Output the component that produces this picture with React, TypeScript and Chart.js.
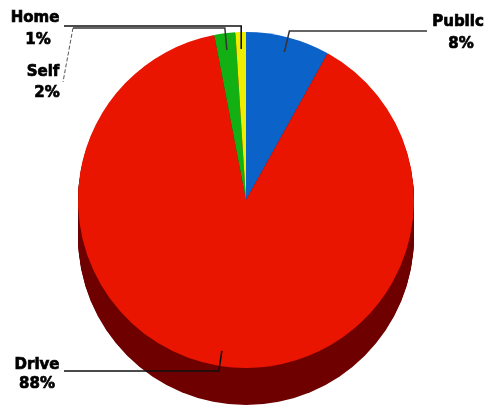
import React, { useEffect, useRef } from "react";
import { Chart, registerables } from "chart.js";

Chart.register(...registerables);

const categories = ["Public", "Drive", "Self", "Home"];
const shares = [8, 88, 2, 1];
const faceColors = ["#0b62c9", "#ea1500", "#12b012", "#eeee00"];
const wallColor = "#6e0000";
const inkColor = "#111111";
const wallDepth = 37;

const labelFont = 'bold 15px "DejaVu Sans"';

// Anchor of each two-line caption: centre x, first baseline y, second line centre x, second baseline y.
const captions = [
  { index: 0, x: 458, y: 26, x2: 461, y2: 48 },
  { index: 1, x: 37, y: 369, x2: 37, y2: 388 },
  { index: 2, x: 43, y: 76, x2: 47, y2: 97 },
  { index: 3, x: 35, y: 22, x2: 38, y2: 44 },
];

const pieWall = {
  id: "pieWall",
  beforeDatasetsDraw(chart: any) {
    const arc = chart.getDatasetMeta(0).data[0];
    const { ctx } = chart;
    ctx.save();
    ctx.fillStyle = wallColor;
    for (let dy = 1; dy <= wallDepth; dy++) {
      ctx.beginPath();
      ctx.arc(arc.x, arc.y + dy, arc.outerRadius, 0, Math.PI * 2);
      ctx.fill();
    }
    ctx.restore();
  },
};

// Point inside a slice along its middle angle.
function sliceTip(arc: any, reach: number) {
  const mid = (arc.startAngle + arc.endAngle) / 2;
  return {
    x: arc.x + Math.cos(mid) * arc.outerRadius * reach,
    y: arc.y + Math.sin(mid) * arc.outerRadius * reach,
  };
}

const calloutLabels = {
  id: "calloutLabels",
  afterDatasetsDraw(chart: any) {
    const { ctx } = chart;
    const arcs = chart.getDatasetMeta(0).data;
    const stroke = (pts: number[][], width = 1.6, color = inkColor, dash: number[] = []) => {
      ctx.beginPath();
      ctx.lineWidth = width;
      ctx.strokeStyle = color;
      ctx.setLineDash(dash);
      pts.forEach(([x, y], i) => (i ? ctx.lineTo(x, y) : ctx.moveTo(x, y)));
      ctx.stroke();
    };
    ctx.save();

    const pub = sliceTip(arcs[0], 0.91);
    stroke([[pub.x, pub.y], [pub.x + 5, 31], [427, 31]], 1.5, "#333333");

    const drive = sliceTip(arcs[1], 0.91);
    stroke([[drive.x, drive.y], [drive.x - 3, 371], [64, 371]]);

    const self = sliceTip(arcs[2], 0.9);
    stroke([[self.x, self.y], [self.x - 2, 28], [73, 28]], 1.5, "#333333");
    stroke([[73, 28], [63, 82]], 1, "#555555", [4, 2]);

    const home = sliceTip(arcs[3], 0.9);
    stroke([[home.x, home.y], [home.x, 26], [64, 26]]);

    ctx.setLineDash([]);
    ctx.font = labelFont;
    ctx.fillStyle = "#000000";
    ctx.strokeStyle = "#000000";
    ctx.lineWidth = 0.7;
    ctx.textAlign = "center";
    ctx.textBaseline = "alphabetic";
    captions.forEach((c) => {
      const share = `${shares[c.index]}%`;
      ctx.fillText(categories[c.index], c.x, c.y);
      ctx.strokeText(categories[c.index], c.x, c.y);
      ctx.fillText(share, c.x2, c.y2);
      ctx.strokeText(share, c.x2, c.y2);
    });
    ctx.restore();
  },
};

export default function App() {
  const canvasRef = useRef<HTMLCanvasElement>(null);

  useEffect(() => {
    const chart = new Chart(canvasRef.current!, {
      type: "pie",
      data: {
        labels: categories,
        datasets: [
          {
            data: shares,
            backgroundColor: faceColors,
            borderWidth: 0,
          },
        ],
      },
      options: {
        animation: false,
        responsive: false,
        layout: { padding: { left: 78, right: 74, top: 32, bottom: 42 } },
        plugins: {
          legend: { display: false },
          title: { display: false },
          tooltip: { enabled: false },
        },
      },
      plugins: [pieWall, calloutLabels],
    });
    return () => chart.destroy();
  }, []);

  return (
    <div style={{ position: "absolute", left: 0, top: 0, width: 488, height: 410, background: "#ffffff" }}>
      <canvas ref={canvasRef} width={488} height={410} style={{ display: "block" }} />
    </div>
  );
}
